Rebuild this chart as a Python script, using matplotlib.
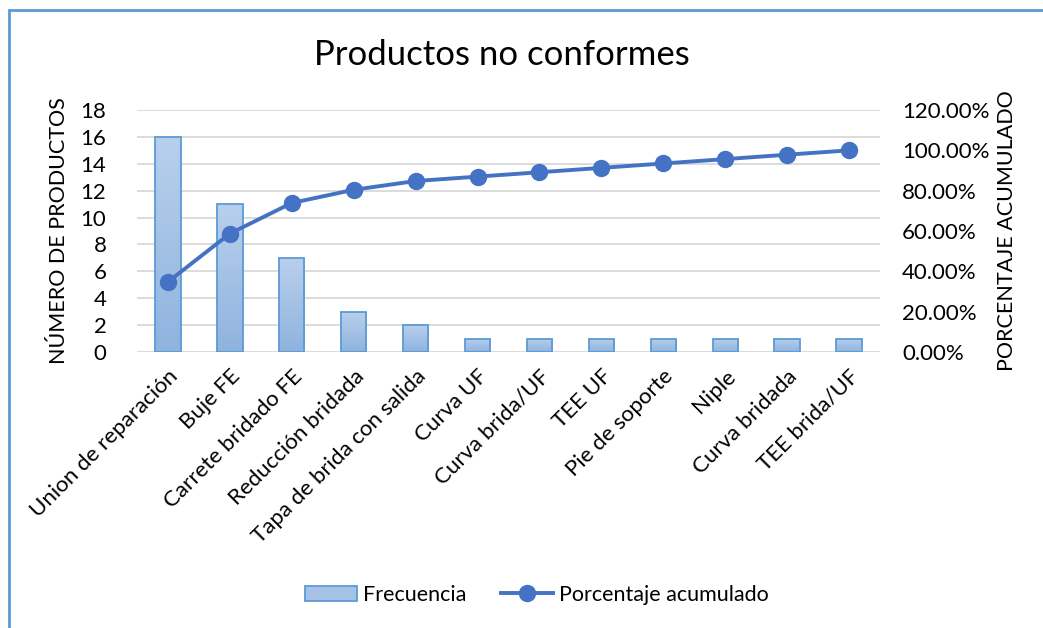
import matplotlib
matplotlib.use("Agg")
import matplotlib.pyplot as plt
import numpy as np
from matplotlib.patches import Rectangle, Patch
from matplotlib.lines import Line2D
from matplotlib.ticker import FuncFormatter, MultipleLocator
from matplotlib.colors import LinearSegmentedColormap

categorias = ["Union de reparación", "Buje FE", "Carrete bridado FE", "Reducción bridada",
              "Tapa de brida con salida", "Curva UF", "Curva brida/UF", "TEE UF",
              "Pie de soporte", "Niple", "Curva bridada", "TEE brida/UF"]
frecuencia = [16, 11, 7, 3, 2, 1, 1, 1, 1, 1, 1, 1]
porcentaje_acumulado = [0.3478, 0.5870, 0.7391, 0.8043, 0.8478, 0.8696,
                        0.8913, 0.9130, 0.9348, 0.9565, 0.9783, 1.0000]

plt.rcParams['font.family'] = ['Lato', 'DejaVu Sans']

W, H = 1043, 628
fig = plt.figure(figsize=(W / 100, H / 100), dpi=100)
ax = fig.add_axes([137 / W, 1 - 352 / H, (880 - 137) / W, (352 - 110) / H])
ax2 = ax.twinx()

x = np.arange(len(categorias))
bar_edge = "#5b9bd5"
line_col = "#4472c4"

bars = ax.bar(x, frecuencia, width=0.41, facecolor="none", edgecolor=bar_edge,
              linewidth=1.3, zorder=3)
grad = np.linspace(0, 1, 256).reshape(-1, 1)
cmap = LinearSegmentedColormap.from_list("g", ["#8fb3df", "#b9d0ec"])
for b in bars:
    x0, y0 = b.get_x(), b.get_y()
    w, h = b.get_width(), b.get_height()
    im = ax.imshow(grad, extent=(x0, x0 + w, y0, y0 + h), origin="lower",
                   cmap=cmap, aspect="auto", zorder=2)
    im.set_clip_path(b)

ax.set_xlim(-0.5, len(categorias) - 0.5)
ax.set_ylim(0, 18)
ax.yaxis.set_major_locator(MultipleLocator(2))
ax.grid(axis="y", color="#d9d9d9", linewidth=1.3, zorder=0)
ax.set_axisbelow(True)

ax2.plot(x, porcentaje_acumulado, color=line_col, linewidth=2.8, marker="o",
         markersize=11.5, markerfacecolor=line_col, markeredgecolor=line_col, zorder=5)
ax2.set_ylim(0, 1.2)
ax2.yaxis.set_major_locator(MultipleLocator(0.2))
ax2.yaxis.set_major_formatter(FuncFormatter(lambda v, p: f"{v * 100:.2f}%"))

for a in (ax, ax2):
    for s in a.spines.values():
        s.set_visible(False)
    a.tick_params(length=0, labelsize=16, colors="#000000")
ax.tick_params(axis="y", pad=22)
ax2.tick_params(axis="y", pad=16)

ax.set_xticks(x)
ax.set_xticklabels(categorias, rotation=45, ha="right", rotation_mode="anchor",
                   fontsize=16)
ax.tick_params(axis="x", pad=10)

ax.set_ylabel("NÚMERO DE PRODUCTOS", fontsize=15.5, labelpad=8)
ax2.set_ylabel("PORCENTAJE ACUMULADO", fontsize=15.5, labelpad=5)

fig.text(0.481, 1 - 55 / H, "Productos no conformes", ha="center", va="center",
         fontsize=25)

handles = [Patch(facecolor="#a5c2e6", edgecolor=bar_edge, linewidth=1.3),
           Line2D([0], [0], color=line_col, linewidth=2.8, marker="o",
                  markersize=11.5)]
fig.legend(handles, ["Frecuencia", "Porcentaje acumulado"], loc="center",
           bbox_to_anchor=(537 / W, 1 - 595 / H), ncol=2, frameon=False,
           fontsize=15.5, handlelength=2.4, columnspacing=1.6, handletextpad=0.3)

fig.add_artist(Rectangle((9 / W, -0.05), 1.2, 1 - 10 / H + 0.05,
                         transform=fig.transFigure, fill=False,
                         edgecolor="#5b9bd5", linewidth=2.0))

fig.savefig("out.png", dpi=100, facecolor="white")
